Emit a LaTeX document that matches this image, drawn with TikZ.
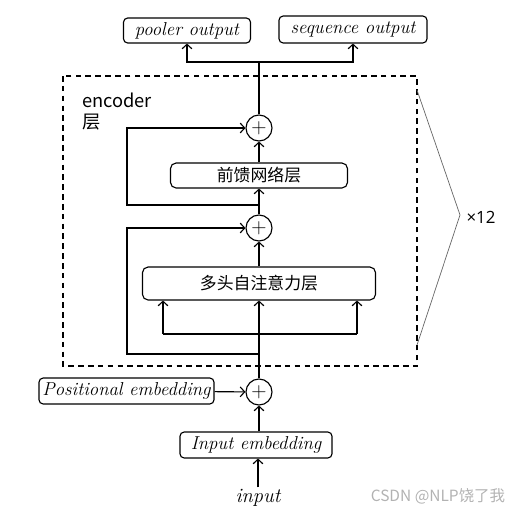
\documentclass[tikz,border=0pt]{standalone}
\usepackage{fontspec}
\newfontfamily\cjk{Noto Sans CJK SC}
\newfontfamily\opensans{Open Sans}
\usetikzlibrary{arrows.meta,positioning}

\begin{document}
\begin{tikzpicture}[
  x=0.025cm, y=-0.025cm,
  line width=0.8pt,
  >={Straight Barb[length=3.2pt,width=7pt]},
  box/.style={draw, rounded corners=3pt, inner sep=0pt, font=\fontsize{13.3}{15}\selectfont\itshape},
  layerbox/.style={draw, rounded corners=4pt, inner sep=0pt, font=\cjk\fontsize{12}{14}\selectfont},
  adder/.style={circle, draw, minimum size=0.65cm, inner sep=0pt, font=\fontsize{15}{17}\selectfont}
]
\useasboundingbox (0,0) rectangle (529,514);

% outputs
\node[box, minimum width=3.175cm, minimum height=0.625cm] (pooler) at (187,30.5) {pooler output};
\node[box, minimum width=3.7cm, minimum height=0.675cm] (seq) at (353,29.5) {sequence output};

% encoder block
\draw[dashed, dash pattern=on 4pt off 3pt] (63,76) rectangle (417,366);
\node[anchor=north west, align=left, font=\cjk\fontsize{13}{14.5}\selectfont] (enclabel) at (77,88) {encoder\\层};
\node[adder] (add1) at (259,128) {+};
\node[layerbox, minimum width=4.425cm, minimum height=0.625cm] (ffn) at (259,175.5) {前馈网络层};
\node[adder] (add2) at (259,228) {+};
\node[layerbox, minimum width=5.825cm, minimum height=0.825cm] (attn) at (259,283.5) {多头自注意力层};

% embeddings
\node[adder] (add0) at (259,392) {+};
\node[box, minimum width=4.375cm, minimum height=0.65cm] (pos) at (126.5,391) {Positional embedding};
\node[box, minimum width=3.8cm, minimum height=0.65cm] (inemb) at (256,445) {Input embedding};
\node[font=\fontsize{14.5}{16}\selectfont\itshape, inner sep=1pt] (input) at (258,498) {input};

\coordinate (split) at (259,334);
\coordinate (attnL) at (163,334);
\coordinate (attnR) at (357,334);
\coordinate (res2) at (259,354);
\coordinate (res2L) at (127,354);
\coordinate (res1) at (259,205);
\coordinate (res1L) at (127,205);
\coordinate (top) at (259,62);

\draw[->] (input) -- (inemb.south -| input);
\draw[->] (inemb.north -| add0) -- (add0);
\draw[->] (pos) -- (add0);
\draw (add0) -- (split);
\draw[->] (split) -- (attn.south -| split);
\draw[->] (attnL) -- (attnL |- attn.south);
\draw[->] (attnR) -- (attnR |- attn.south);
\draw (attnL) -- (attnR);
\draw[->] (res2) -- (res2L) |- (add2.west);
\draw[->] (attn) -- (add2);
\draw[->] (add2) -- (ffn);
\draw[->] (res1) -- (res1L) |- (add1.west);
\draw[->] (ffn) -- (add1);
\draw (add1) -- (top);
\draw[->] (top) -| (pooler.south);
\draw[->] (top) -| (seq.south);

% repeat mark
\coordinate (bt) at (417,90);
\coordinate (bm) at (460,215);
\coordinate (bb) at (417,345);
\draw[gray!80!black, line width=0.5pt] (bt) -- (bm) -- (bb);
\node[anchor=west, font=\opensans\fontsize{12}{14}\selectfont, inner sep=0pt] (times) at (466,217) {×12};

\node[font=\cjk\fontsize{11}{13}\selectfont, text=gray!60, inner sep=0pt] (mark) at (438,496) {CSDN @NLP饶了我};
\end{tikzpicture}
\end{document}
